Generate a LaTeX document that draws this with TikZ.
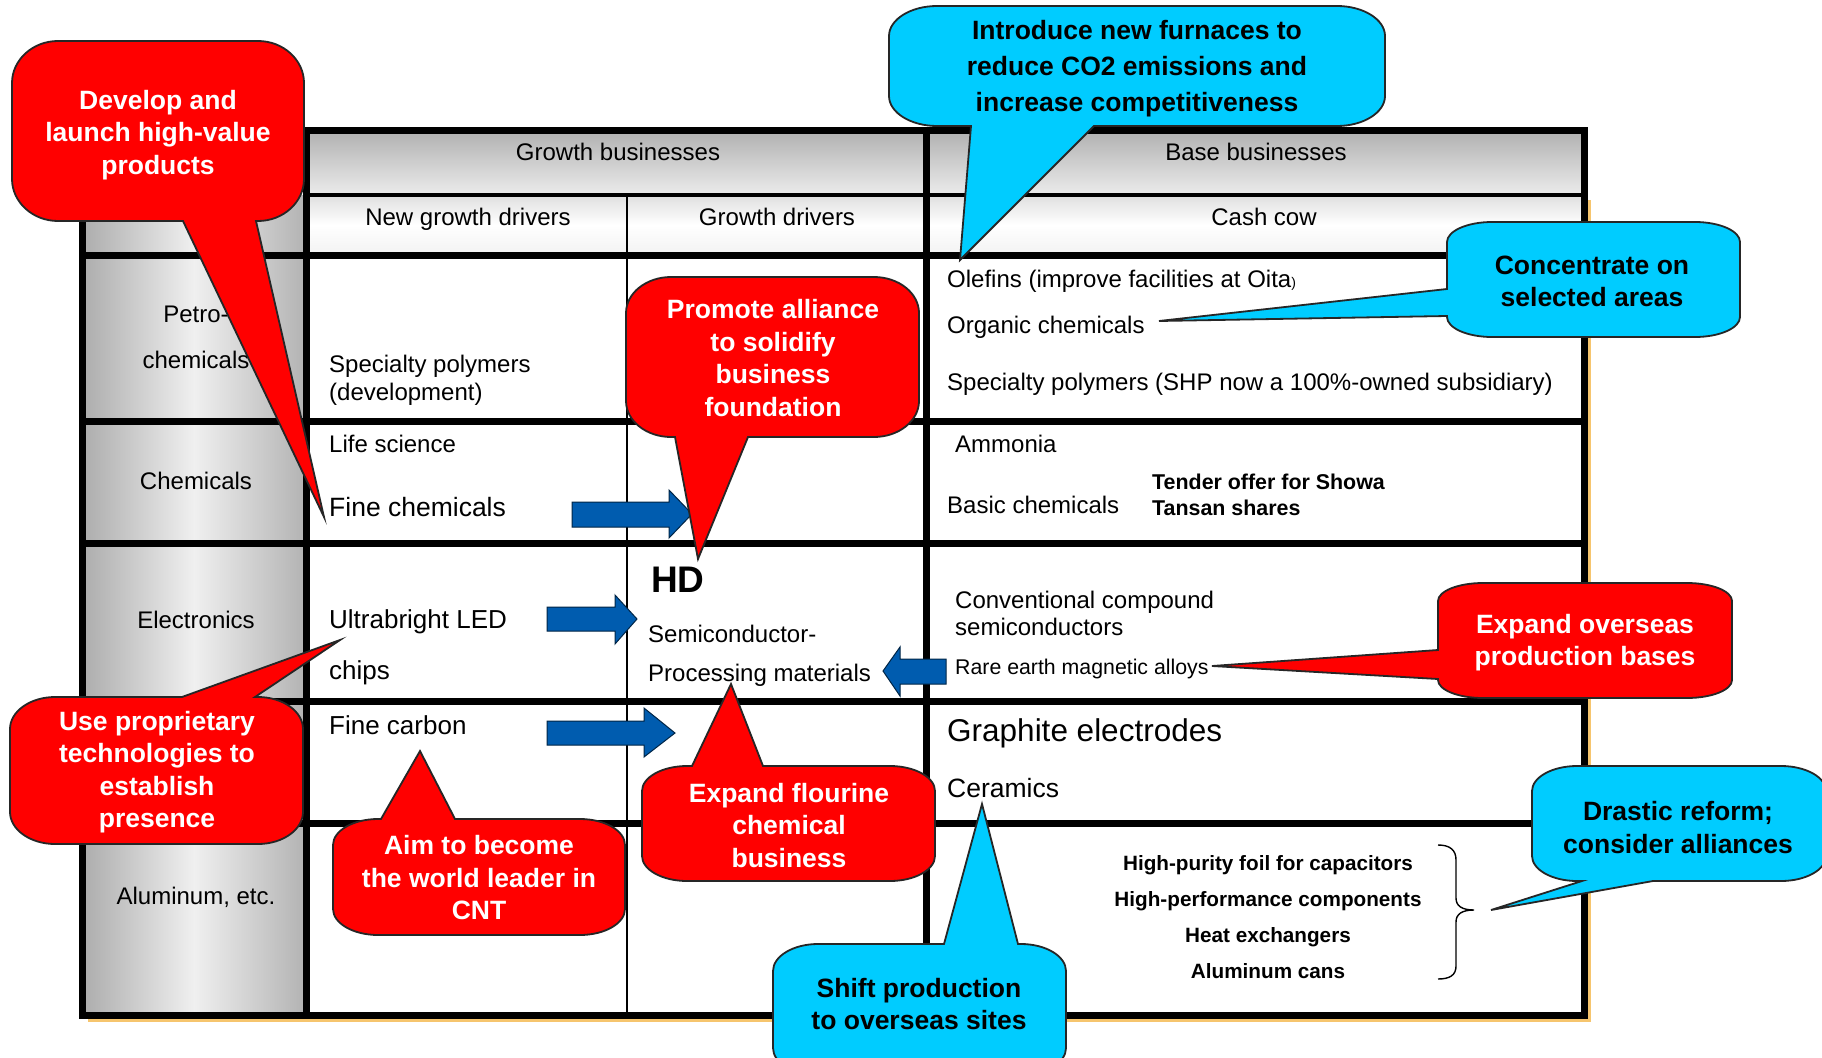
\documentclass[tikz,border=0pt]{standalone}
\usepackage{fontspec}
\setmainfont{Liberation Sans}
\usetikzlibrary{calc}
\definecolor{cred}{HTML}{FF0000}
\definecolor{ccyan}{HTML}{00CCFF}
\definecolor{cblue}{HTML}{005CAF}
\definecolor{cshadow}{HTML}{F6C56E}
\newcommand\fsz[2]{\fontsize{#1}{#2}\selectfont}
\def\crx{45}\def\cry{25}
% #1 style, #2 L, #3 T, #4 R, #5 B, #6 top insert, #7 bottom insert, #8 left insert
\newcommand\callout[8]{%
 \filldraw[#1] ({#2+\crx},#3) #6 -- ({#4-\crx},#3)
  .. controls ({#4-0.45*\crx},#3) and (#4,{#3+0.45*\cry}) .. (#4,{#3+\cry})
  -- (#4,{#5-\cry})
  .. controls (#4,{#5-0.45*\cry}) and ({#4-0.45*\crx},#5) .. ({#4-\crx},#5)
  #7 -- ({#2+\crx},#5)
  .. controls ({#2+0.45*\crx},#5) and (#2,{#5-0.45*\cry}) .. (#2,{#5-\cry})
  #8 -- (#2,{#3+\cry})
  .. controls (#2,{#3+0.45*\cry}) and ({#2+0.45*\crx},#3) .. ({#2+\crx},#3) -- cycle;}

\begin{document}
\begin{tikzpicture}[x=1pt,y=-1pt,
  thickline/.style={line width=7pt, line cap=rect},
  medline/.style={line width=4pt},
  thinline/.style={line width=1.8pt},
  cell/.style={anchor=base west, inner sep=0pt, font=\fsz{24}{28}},
  hdr/.style={anchor=base, inner sep=0pt, font=\fsz{24}{28}},
  redcall/.style={fill=cred, draw=black!85, line width=1.8pt, line join=miter},
  cyancall/.style={fill=ccyan, draw=black!85, line width=1.8pt, line join=miter},
  calltext/.style={align=center, inner sep=0pt, font=\fsz{26.5}{32.5}\bfseries},
  redtext/.style={calltext, text=white},
  cyantext/.style={calltext, text=black},
  barrow/.style={fill=cblue, draw=black!60!cblue, line width=1pt},
  bracestyle/.style={draw=black, line width=1.4pt},
]
\useasboundingbox (0,0) rectangle (1822,1057);
\clip (0,0) rectangle (1822,1057);
\fill[white] (0,0) rectangle (1822,1057);

% ---------- table ----------
\fill[cshadow] (88,200) rectangle (1591,1022);
\fill[white] (82,130) rectangle (1584,1015);
\shade[top color=gray!62, bottom color=gray!15] (306,130) rectangle (1584,195);
\shade[top color=gray!25, bottom color=gray!10, middle color=white] (306,195) rectangle (1584,255);
\shade[left color=gray!65, right color=gray!60, middle color=gray!12] (82,195) rectangle (306,1015);

\draw[thickline] (306,130) -- (1584,130);
\draw[medline] (306,195) -- (1584,195);
\draw[thickline] (82,255) -- (1584,255);
\draw[thickline] (82,421) -- (1584,421);
\draw[thickline] (82,543) -- (1584,543);
\draw[thickline] (82,701) -- (1584,701);
\draw[thickline] (82,823) -- (1584,823);
\draw[thickline] (82,1015) -- (1584,1015);
\draw[thickline] (82,195) -- (82,1015);
\draw[thickline] (306,130) -- (306,1015);
\draw[thinline] (627,195) -- (627,1015);
\draw[thickline] (926,130) -- (926,1015);
\draw[thickline] (1584,130) -- (1584,1015);

% headers
\node[hdr] (hGB) at (618,160.6) {Growth businesses};
\node[hdr] (hBB) at (1256,160.6) {Base businesses};
\node[hdr] (hNG) at (468,225.6) {New growth drivers};
\node[hdr] (hGD) at (777,225.6) {Growth drivers};
\node[hdr] (hCC) at (1264,225.6) {Cash cow};
\node[hdr] (rPetro) at (196,322.6) {Petro-};
\node[hdr] (rPetroB) at (196,368.6) {chemicals};
\node[hdr] (rChem) at (196,489.6) {Chemicals};
\node[hdr] (rElec) at (196,628.6) {Electronics};
\node[hdr] (rAlu) at (196,904.6) {Aluminum, etc.};

% cells
\node[cell] (t1) at (329,372.6) {Specialty polymers};
\node[cell] (t2) at (329,400.6) {(development)};
\node[cell] (t3) at (329,452.6) {Life science};
\node[cell, font=\fsz{26.5}{30}] (t4) at (329,516.5) {Fine chemicals};
\node[cell, font=\fsz{26}{30}] (t5) at (329,628.4) {Ultrabright LED};
\node[cell, font=\fsz{26}{30}] (t6) at (329,679.4) {chips};
\node[cell, font=\fsz{26}{30}] (t7) at (329,734.4) {Fine carbon};
\node[cell, font=\fsz{37}{40}\bfseries] (t8) at (651,592.3) {HD};
\node[cell] (t9) at (648,642.6) {Semiconductor-};
\node[cell] (t10) at (648,681.6) {Processing materials};
\node[cell] (t11) at (947,287.6) {Olefins (improve facilities at Oita{\fsz{14}{14})}};
\node[cell] (t12) at (947,333.6) {Organic chemicals};
\node[cell] (t13) at (947,390.6) {Specialty polymers (SHP now a 100\%-owned subsidiary)};
\node[cell] (t14) at (955,452.6) {Ammonia};
\node[cell] (t15) at (947,513.6) {Basic chemicals};
\node[cell, font=\fsz{21.4}{26}\bfseries] (t16) at (1152,489.7) {Tender offer for Showa};
\node[cell, font=\fsz{21.4}{26}\bfseries] (t17) at (1152,515.7) {Tansan shares};
\node[cell] (t18) at (955,608.6) {Conventional compound};
\node[cell] (t19) at (955,635.6) {semiconductors};
\node[cell, font=\fsz{21.3}{26}] (t20) at (955,674.7) {Rare earth magnetic alloys};
\node[cell, font=\fsz{31.5}{36}] (t21) at (947,741.3) {Graphite electrodes};
\node[cell, font=\fsz{26.5}{30}] (t22) at (947,797.5) {Ceramics};
\node[hdr, font=\fsz{20.7}{24}\bfseries] (t23) at (1268,870.5) {High-purity foil for capacitors};
\node[hdr, font=\fsz{20.7}{24}\bfseries] (t24) at (1268,906.5) {High-performance components};
\node[hdr, font=\fsz{20.7}{24}\bfseries] (t25) at (1268,942.5) {Heat exchangers};
\node[hdr, font=\fsz{20.7}{24}\bfseries] (t26) at (1268,978.5) {Aluminum cans};

% brace
\draw[bracestyle] (1438,845) .. controls (1450,845) and (1456,850) .. (1456,860) -- (1456,898)
  .. controls (1456,906) and (1462,910) .. (1474,910)
  .. controls (1462,910) and (1456,914) .. (1456,922) -- (1456,966)
  .. controls (1456,975) and (1450,979) .. (1438,979);

% blue arrows
\draw[barrow] (572,502) -- (669,502) -- (669,490) -- (692,514) -- (669,538) -- (669,527) -- (572,527) -- cycle;
\draw[barrow] (547,607) -- (615,607) -- (615,595) -- (637,619) -- (615,644) -- (615,631) -- (547,631) -- cycle;
\draw[barrow] (547,721) -- (644,721) -- (644,708) -- (675,733) -- (644,757) -- (644,745) -- (547,745) -- cycle;
\draw[barrow] (946,659) -- (900,659) -- (900,647) -- (883,671) -- (900,696) -- (900,684) -- (946,684) -- cycle;

% ---------- callouts ----------
\def\crx{46}\def\cry{42}
\callout{redcall}{12}{41}{304}{221}{}{-- (256,221) -- (324,517) -- (183,221)}{}
\node[redtext] (co1) at (158,135) {Develop and\\launch high-value\\products};

\def\crx{48}\def\cry{30}
\callout{cyancall}{889}{6}{1385}{126}{}{-- (1094,126) -- (960,260) -- (971,126)}{}
\node[cyantext, font=\fsz{26.5}{36}\bfseries] (co2) at (1137,69) {Introduce new furnaces to\\reduce CO2 emissions and\\increase competitiveness};

\def\crx{45}\def\cry{20}
\callout{cyancall}{1447}{222}{1740}{337}{}{}{-- (1447,316) -- (1159,321) -- (1447,289)}
\node[cyantext] (co3) at (1592,281.5) {Concentrate on\\selected areas};

\def\crx{45}\def\cry{36}
\callout{redcall}{626}{277}{919}{437}{}{-- (748,437) -- (698,559) -- (675,437)}{}
\node[redtext] (co4) at (773,358) {Promote alliance\\to solidify\\business\\foundation};

\def\crx{45}\def\cry{32}
\callout{redcall}{10}{697}{303}{844}{-- (182,697) -- (340,640) -- (255,697)}{}{}
\node[redtext] (co5) at (157,772) {Use proprietary\\technologies to\\establish\\presence};

\def\crx{45}\def\cry{26}
\callout{redcall}{333}{819}{625}{935}{-- (381,819) -- (420,751) -- (455,819)}{}{}
\node[redtext] (co6) at (479,878) {Aim to become\\the world leader in\\CNT};

\def\crx{45}\def\cry{25}
\callout{redcall}{642}{766}{935}{881}{-- (692,766) -- (731,684) -- (763,766)}{}{}
\node[redtext] (co7) at (789,825.5) {Expand flourine\\chemical\\business};

\def\crx{45}\def\cry{18}
\callout{redcall}{1438}{583}{1732}{698}{}{}{-- (1438,679) -- (1212,666) -- (1438,650)}
\node[redtext] (co8) at (1585,642.5) {Expand overseas\\production bases};

\def\crx{45}\def\cry{25}
\callout{cyancall}{1532}{766}{1826}{881}{}{-- (1653,881) -- (1491,910) -- (1582,881)}{}
\node[cyantext] (co9) at (1678,827.5) {Drastic reform;\\consider alliances};

\def\crx{45}\def\cry{27}
\callout{cyancall}{773}{944}{1066}{1075}{-- (944,944) -- (982,804) -- (1018,944)}{}{}
\node[cyantext] (co10) at (919,1004) {Shift production\\to overseas sites};

\end{tikzpicture}
\end{document}
